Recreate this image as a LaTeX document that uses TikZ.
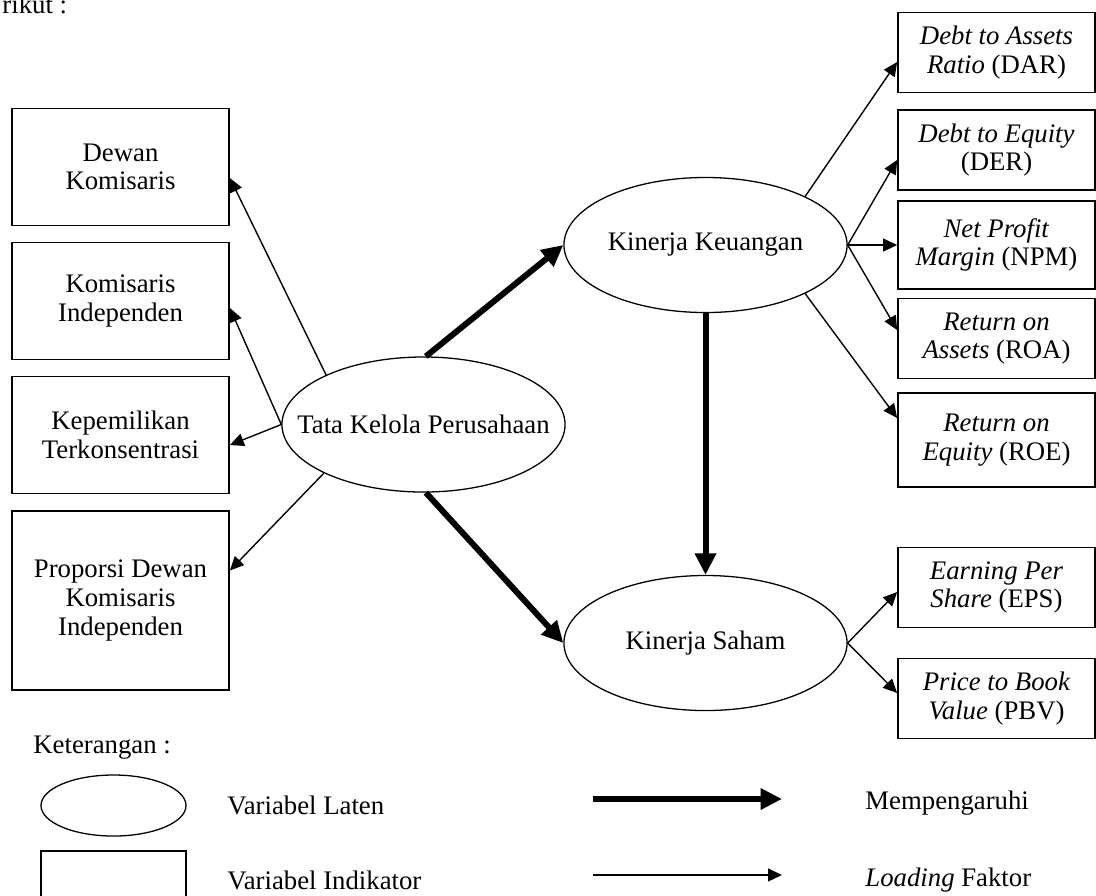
\documentclass[tikz,border=0pt]{standalone}
\usepackage{fontspec}
\setmainfont{Liberation Serif}
\usetikzlibrary{positioning,calc,arrows.meta,shapes.geometric}
\tikzset{
  lbox/.style   = {draw, line width=0.8pt, minimum width=3.564cm, minimum height=1.921cm, align=center, inner sep=1pt},
  rbox/.style   = {draw, line width=0.8pt, minimum width=3.235cm, minimum height=1.314cm, align=center, inner sep=1pt},
  latent/.style = {ellipse, draw, line width=0.6pt, minimum width=4.648cm, minimum height=2.217cm,
    inner ysep=0pt, inner xsep=-0.45cm},
  load/.style   = {-{Triangle[length=6.5pt,width=6pt]}, line width=0.65pt},
  effect/.style = {-{Triangle[length=10pt,width=9.5pt]}, line width=2.8pt},
  txt/.style    = {inner sep=0pt, anchor=west},
  every node/.style = {font=\fontsize{12.5}{13.4}\selectfont}
}

\begin{document}
\begin{tikzpicture}[x=0.016423cm, y=-0.016423cm]
    \useasboundingbox (0,0) rectangle (1096,895);
    \node[inner sep=0pt, anchor=base west] (intro) at (2,13) {rikut :};

    % latent variables
    \node[latent] (tkp) at (423.5,424.5) {Tata Kelola Perusahaan};
    \node[latent] (kk)  at (705.5,245)   {Kinerja Keuangan};
    \node[latent] (ks)  at (705.5,643)   {Kinerja Saham};

    % indicators (left)
    \node[lbox] (dk) at (120.5,167)   {Dewan\\Komisaris};
    \node[lbox] (ki) at (120.5,301)   {Komisaris\\Independen};
    \node[lbox] (kt) at (120.5,435)   {Kepemilikan\\Terkonsentrasi};
    \node[lbox, minimum height=2.94cm] (pd) at (120.5,600.5)
    {Proporsi Dewan\\Komisaris\\Independen};

    % indicators (right)
    \node[rbox] (dar) at (996.5,52.5) {\textit{Debt to Assets}\\\textit{Ratio} (DAR)};
    \node[rbox] (der) at (996.5,150)  {\textit{Debt to Equity}\\(DER)};
    \node[rbox, minimum height=1.445cm] (npm) at (996.5,245)
    {\textit{Net Profit}\\\textit{Margin} (NPM)};
    \node[rbox] (roa) at (996.5,338.5) {\textit{Return on}\\\textit{Assets} (ROA)};
    \node[rbox, minimum height=1.544cm] (roe) at (996.5,440)
    {\textit{Return on}\\\textit{Equity} (ROE)};
    \node[rbox] (eps) at (996.5,587.5) {\textit{Earning Per}\\\textit{Share} (EPS)};
    \node[rbox] (pbv) at (996.5,698.5) {\textit{Price to Book}\\\textit{Value} (PBV)};

    % loading arrows
    \draw[load] (tkp.153) -- ($(dk.east)+(0,11)$);
    \draw[load] (tkp.180) -- ($(ki.east)+(0,7)$);
    \draw[load] (tkp.180) -- ($(kt.east)+(0,10)$);
    \draw[load] (tkp.206) -- ($(pd.east)+(0,-30)$);
    \draw[load] (kk.26)   -- ($(dar.west)+(0,9.5)$);
    \draw[load] (kk.east) -- ($(der.west)+(0,10)$);
    \draw[load] (kk.east) -- (npm.west);
    \draw[load] (kk.east) -- ($(roa.west)+(0,-8.5)$);
    \draw[load] (kk.-26)  -- ($(roe.west)+(0,-22)$);
    \draw[load] (ks.east) -- ($(eps.west)+(0,4.5)$);
    \draw[load] (ks.east) -- ($(pbv.west)+(0,-5.5)$);

    % structural paths
    \draw[effect] (tkp.88)   -- (kk.west);
    \draw[effect] (tkp.-88)  -- (ks.west);
    \draw[effect] (kk.south) -- (ks.north);

    % legend
    \node[txt] (ket) at (33,748) {Keterangan :};
    \node[ellipse, draw, line width=0.6pt, minimum width=2.381cm, minimum height=1.002cm,
      inner sep=0pt] (legell) at (113.5,805.5) {};
    \node[draw, line width=0.8pt, minimum width=2.381cm, minimum height=1.002cm,
      inner sep=0pt] (legbox) at (113.5,881.5) {};
    \node[txt] (latlbl) at (227,805) {Variabel Laten};
    \node[txt] (indlbl) at (227,880) {Variabel Indikator};
    \coordinate (thka) at (593,799);
    \coordinate (thkb) at (782,799);
    \coordinate (thna) at (593,875);
    \coordinate (thnb) at (782,875);
    \draw[effect] (thka) -- (thkb);
    \draw[load]   (thna) -- (thnb);
    \node[txt] (efflbl)  at (865,803) {Mempengaruhi};
    \node[txt] (loadlbl) at (865,880) {\textit{Loading} Faktor};
\end{tikzpicture}
\end{document}
